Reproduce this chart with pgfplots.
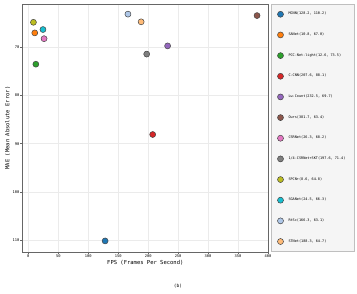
\documentclass[border=0pt]{standalone}
\usepackage{fontspec}
\setmainfont{DejaVu Sans Mono}
\usepackage{pgfplots}
\pgfplotsset{compat=1.18}
\definecolor{c1}{HTML}{1F77B4}
\definecolor{c2}{HTML}{FF7F0E}
\definecolor{c3}{HTML}{2CA02C}
\definecolor{c4}{HTML}{D62728}
\definecolor{c5}{HTML}{9467BD}
\definecolor{c6}{HTML}{8C564B}
\definecolor{c7}{HTML}{E377C2}
\definecolor{c8}{HTML}{7F7F7F}
\definecolor{c9}{HTML}{BCBD22}
\definecolor{c10}{HTML}{17BECF}
\definecolor{c11}{HTML}{AEC7E8}
\definecolor{c12}{HTML}{FFBB78}
\definecolor{edge}{HTML}{444444}
\begin{document}
\begin{tikzpicture}[x=1pt,y=1pt]
\useasboundingbox (0,0) rectangle (357,293);
\begin{axis}[at={(22.3pt,41pt)}, anchor=south west, scale only axis,
  width=246pt, height=248pt,
  xmin=-10, xmax=400.5, ymin=61, ymax=112.5, y dir=reverse,
  xtick={0,50,...,400}, ytick={70,80,...,110},
  grid=major, grid style={black!8, line width=0.4pt},
  axis line style={black!60, line width=0.6pt},
  tick align=outside, tick pos=left, major tick length=1.8pt,
  tick style={black!60, line width=0.4pt},
  ticklabel style={font=\fontsize{3.7}{4}\selectfont, inner sep=1pt},
  /pgf/number format/assume math mode=true,
  xlabel={FPS (Frames Per Second)}, ylabel={MAE (Mean Absolute Error)},
  label style={font=\fontsize{5.5}{6}\selectfont},
  xlabel style={yshift=2pt}, ylabel style={yshift=-2pt},
  legend style={at={(1,1)}, xshift=2.5pt, anchor=north west,
    fill=black!4, draw=black!25, line width=0.4pt,
    font=\fontsize{3.5}{4}\selectfont, row sep=12.5pt, column sep=3pt,
    inner xsep=6.5pt, inner ysep=6pt},
  legend cell align=left,
  every axis plot/.append style={only marks, mark=*, mark size=3pt},
]
\addplot[mark options={fill=c1, draw=edge, line width=0.5pt}] coordinates {(128.2,110.2)};
\addlegendentry{MCNN(128.2, 110.2)}
\addplot[mark options={fill=c2, draw=edge, line width=0.5pt}] coordinates {(10.8,67.0)};
\addlegendentry{SANet(10.8, 67.0)}
\addplot[mark options={fill=c3, draw=edge, line width=0.5pt}] coordinates {(12.6,73.5)};
\addlegendentry{PCC-Net-light(12.6, 73.5)}
\addplot[mark options={fill=c4, draw=edge, line width=0.5pt}] coordinates {(207.6,88.1)};
\addlegendentry{C-CNN(207.6, 88.1)}
\addplot[mark options={fill=c5, draw=edge, line width=0.5pt}] coordinates {(232.5,69.7)};
\addlegendentry{Lw-Count(232.5, 69.7)}
\addplot[mark options={fill=c6, draw=edge, line width=0.5pt}] coordinates {(381.7,63.4)};
\addlegendentry{Ours(381.7, 63.4)}
\addplot[mark options={fill=c7, draw=edge, line width=0.5pt}] coordinates {(26.3,68.2)};
\addlegendentry{CSRNet(26.3, 68.2)}
\addplot[mark options={fill=c8, draw=edge, line width=0.5pt}] coordinates {(197.6,71.4)};
\addlegendentry{1/4-CSRNet+SKT(197.6, 71.4)}
\addplot[mark options={fill=c9, draw=edge, line width=0.5pt}] coordinates {(8.6,64.8)};
\addlegendentry{SPCN+(8.6, 64.8)}
\addplot[mark options={fill=c10, draw=edge, line width=0.5pt}] coordinates {(24.5,66.3)};
\addlegendentry{SGANet(24.5, 66.3)}
\addplot[mark options={fill=c11, draw=edge, line width=0.5pt}] coordinates {(166.3,63.1)};
\addlegendentry{RtSc(166.3, 63.1)}
\addplot[mark options={fill=c12, draw=edge, line width=0.5pt}] coordinates {(188.3,64.7)};
\addlegendentry{STNet(188.3, 64.7)}
\end{axis}
\node[font=\fontsize{4.5}{5}\selectfont] at (178,7) {(b)};
\end{tikzpicture}
\end{document}
